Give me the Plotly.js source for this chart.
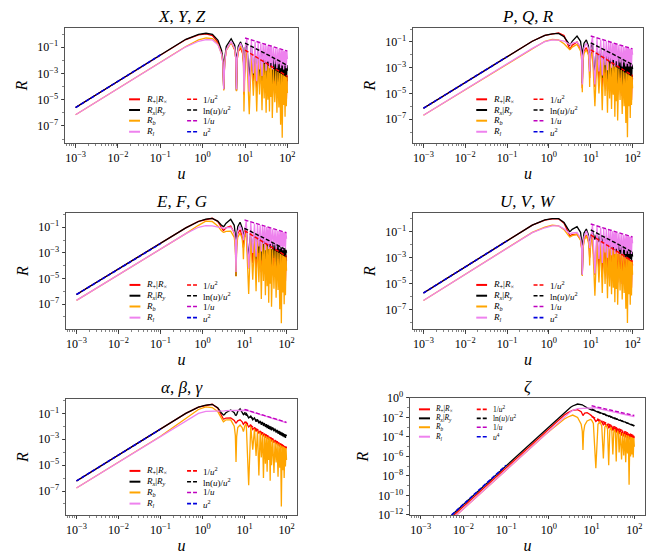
<!DOCTYPE html>
<html><head><meta charset="utf-8">
<script src="https://cdn.plot.ly/plotly-3.0.1.min.js"></script>
<style>html,body{margin:0;padding:0;background:#fff;}</style>
</head><body>
<div id="chart" style="width:664px;height:560px"></div>
<script>
// ---------- shared abscissa (u) ----------
const u = [0.001,0.1,0.4,0.8,1.2,1.7,2.3,2.8,3.0,3.14,3.3,3.6,4.7,5.7,6.05,6.28,6.5,6.9,7.85,8.8,9.2,9.42,9.65,10.1,11.0,12.57,14.1,15.71,17.3,18.85,20.4,21.99,23.6,25.13,26.7,28.27,29.8,31.42,33.0,34.56,36.1,37.7,39.3,40.84,42.4,43.98,47.1,50.27,53.4,56.55,59.7,62.83,66.0,69.12,72.3,75.4,78.5,81.68,84.8,87.96,91.1,94.25,97.4,100];
const asymU = [10, 20, 40, 100];
const lowU = [0.001, 0.1];

// ---------- series values, stored as log10(R) ----------
// X,Y,Z
const xyzPlus = [-5.6,-1.6,-0.42,-0.06,0.01,-0.12,-0.65,-1.45,-2.1,-4.2,-2.1,-1.2,-0.62,-1.2,-1.9,-4.3,-2.0,-1.35,-1.05,-1.5,-2.2,-4.6,-2.3,-1.5,-1.28,-4.1,-1.5,-3.6,-1.7,-4.3,-1.83,-3.8,-1.96,-4.4,-2.06,-3.9,-2.16,-4.5,-2.25,-4.0,-2.33,-4.6,-2.4,-4.1,-2.47,-4.7,-2.56,-4.3,-2.67,-4.8,-2.77,-4.4,-2.86,-5.0,-2.94,-4.6,-3.0,-5.1,-3.08,-4.7,-3.14,-5.2,-3.2,-3.6];
const xyzVec = [-5.6,-1.6,-0.4,-0.02,0.06,-0.02,-0.48,-1.25,-1.95,-4.2,-1.95,-0.95,-0.36,-0.85,-1.6,-4.3,-1.65,-0.95,-0.6,-1.05,-1.75,-4.0,-1.85,-1.05,-0.76,-3.4,-0.93,-3.1,-1.07,-3.5,-1.19,-3.2,-1.3,-3.6,-1.39,-3.3,-1.47,-3.7,-1.55,-3.4,-1.61,-3.8,-1.68,-3.5,-1.73,-3.9,-1.81,-3.6,-1.91,-4.0,-1.99,-3.7,-2.07,-4.1,-2.14,-3.8,-2.2,-4.2,-2.26,-3.9,-2.32,-4.3,-2.37,-2.8];
const xyzB = [-6.15,-2.15,-0.95,-0.45,-0.3,-0.35,-0.78,-1.55,-2.2,-4.3,-2.2,-1.25,-0.65,-1.2,-1.9,-4.35,-1.95,-1.3,-0.9,-1.4,-2.1,-5.9,-2.2,-1.45,-1.4,-6.1,-1.6,-4.7,-1.8,-5.9,-1.93,-4.6,-2.06,-5.8,-2.16,-4.9,-2.26,-6.0,-2.35,-5.0,-2.43,-5.9,-2.5,-4.8,-2.57,-6.4,-2.66,-5.2,-2.77,-6.0,-2.87,-5.6,-2.96,-6.9,-3.04,-7.9,-3.1,-5.4,-3.18,-6.3,-3.24,-5.5,-3.3,-4.5];
const xyzL = [-6.15,-2.15,-0.97,-0.55,-0.42,-0.45,-0.82,-1.55,-2.2,-4.2,-2.2,-1.2,-0.58,-1.1,-1.8,-4.2,-1.85,-1.15,-0.7,-1.15,-1.85,-4.4,-1.9,-1.0,-0.39,-4.4,-0.5,-3.0,-0.59,-3.6,-0.66,-2.7,-0.72,-3.2,-0.78,-2.2,-0.82,-2.8,-0.87,-2.1,-0.91,-2.6,-0.94,-2.2,-0.98,-2.7,-1.02,-2.3,-1.08,-2.6,-1.13,-2.3,-1.17,-2.6,-1.21,-2.4,-1.25,-2.7,-1.28,-2.4,-1.31,-2.6,-1.34,-1.9];
const xyzInv2 = [-1.22,-1.82,-2.42,-3.22];
const xyzLnu = [-0.69,-1.18,-1.69,-2.39];
const xyzInv = [-0.3,-0.6,-0.9,-1.3];
const xyzLow = [-5.6,-1.6];

// P,Q,R
const pqrPlus = [-6.15,-2.15,-0.95,-0.5,-0.38,-0.3,-0.5,-1.1,-1.4,-1.6,-1.5,-1.25,-1.0,-1.5,-2.1,-4.6,-2.2,-1.7,-1.45,-1.9,-2.5,-3.8,-2.6,-2.0,-1.71,-4.5,-1.93,-4.0,-2.1,-4.7,-2.25,-4.2,-2.37,-4.8,-2.48,-4.3,-2.57,-4.9,-2.66,-4.4,-2.74,-5.0,-2.81,-4.5,-2.88,-5.1,-2.97,-4.6,-3.08,-5.2,-3.18,-4.7,-3.27,-5.3,-3.34,-4.8,-3.42,-5.4,-3.48,-4.9,-3.55,-5.5,-3.6,-3.9];
const pqrVec = [-6.15,-2.15,-0.95,-0.5,-0.37,-0.34,-0.6,-1.0,-1.18,-1.25,-1.18,-0.95,-0.55,-0.95,-1.6,-4.2,-1.7,-1.1,-0.84,-1.3,-2.0,-3.3,-2.1,-1.4,-1.13,-3.6,-1.31,-3.2,-1.45,-3.8,-1.57,-3.4,-1.68,-3.9,-1.77,-3.5,-1.85,-4.0,-1.93,-3.6,-1.99,-4.1,-2.06,-3.7,-2.11,-4.2,-2.19,-3.8,-2.29,-4.3,-2.37,-3.9,-2.45,-4.4,-2.52,-4.0,-2.58,-4.5,-2.64,-4.1,-2.7,-4.6,-2.75,-3.1];
const pqrB = [-6.69,-2.69,-1.5,-0.95,-0.8,-0.85,-1.15,-1.45,-1.55,-1.6,-1.55,-1.4,-1.2,-1.7,-2.4,-4.9,-2.5,-1.9,-1.6,-2.0,-2.7,-4.5,-2.8,-2.1,-1.81,-6.0,-2.03,-5.0,-2.2,-6.3,-2.35,-5.2,-2.47,-6.5,-2.58,-5.4,-2.67,-6.2,-2.76,-5.1,-2.84,-6.8,-2.91,-5.6,-2.98,-7.1,-3.07,-5.5,-3.18,-6.6,-3.28,-6.0,-3.37,-7.3,-3.44,-8.4,-3.52,-6.0,-3.58,-6.9,-3.65,-5.9,-3.7,-4.6];
const pqrL = [-6.69,-2.69,-1.5,-0.98,-0.85,-0.86,-0.93,-1.1,-1.17,-1.2,-1.17,-1.1,-1.0,-1.4,-2.0,-4.3,-2.1,-1.45,-1.1,-1.5,-2.1,-3.3,-2.1,-1.2,-0.62,-4.3,-0.73,-3.3,-0.82,-3.6,-0.89,-2.8,-0.95,-3.2,-1.01,-2.5,-1.05,-3.0,-1.1,-2.4,-1.14,-2.9,-1.17,-2.5,-1.21,-2.9,-1.25,-2.6,-1.31,-2.9,-1.36,-2.6,-1.4,-2.9,-1.44,-2.7,-1.47,-2.9,-1.51,-2.7,-1.54,-2.9,-1.57,-2.0];
const pqrInv2 = [-1.61,-2.21,-2.81,-3.61];
const pqrLnu = [-1.07,-1.56,-2.07,-2.77];
const pqrInv = [-0.54,-0.84,-1.14,-1.54];
const pqrLow = [-6.15,-2.15];

// E,F,G
const efgPlus = [-6.25,-2.28,-1.05,-0.55,-0.4,-0.3,-0.55,-1.0,-1.2,-1.26,-1.2,-1.05,-0.9,-1.45,-2.1,-4.8,-2.2,-1.5,-1.2,-1.7,-2.2,-2.6,-2.2,-1.6,-1.34,-4.2,-1.56,-3.8,-1.74,-4.4,-1.88,-3.9,-2.01,-4.5,-2.11,-4.0,-2.21,-4.6,-2.3,-4.1,-2.38,-4.7,-2.45,-4.2,-2.51,-4.8,-2.61,-4.3,-2.72,-4.9,-2.81,-4.4,-2.9,-5.0,-2.98,-4.5,-3.05,-5.1,-3.12,-4.6,-3.18,-5.2,-3.24,-3.6];
const efgVec = [-6.25,-2.28,-1.05,-0.55,-0.37,-0.31,-0.52,-0.82,-0.92,-0.95,-0.9,-0.7,-0.38,-0.85,-1.6,-4.8,-1.7,-0.95,-0.61,-1.05,-1.6,-2.0,-1.6,-1.1,-1.14,-3.4,-1.32,-2.9,-1.46,-3.5,-1.58,-3.0,-1.69,-3.6,-1.78,-3.1,-1.86,-3.7,-1.94,-3.2,-2.0,-3.8,-2.07,-3.3,-2.12,-3.9,-2.2,-3.4,-2.3,-4.0,-2.38,-3.5,-2.46,-4.1,-2.53,-3.6,-2.59,-4.2,-2.65,-3.7,-2.71,-4.3,-2.76,-3.0];
const efgB = [-6.71,-2.72,-1.5,-0.85,-0.52,-0.55,-0.9,-1.25,-1.36,-1.4,-1.38,-1.32,-1.3,-1.8,-2.5,-4.85,-2.5,-1.8,-1.45,-1.9,-2.6,-3.5,-2.6,-1.8,-1.44,-6.2,-1.66,-5.1,-1.84,-6.0,-1.98,-5.3,-2.11,-6.6,-2.21,-5.2,-2.31,-6.3,-2.4,-5.6,-2.48,-6.9,-2.55,-5.4,-2.61,-7.2,-2.71,-5.8,-2.82,-6.5,-2.91,-5.9,-3.0,-7.4,-3.08,-8.5,-3.15,-6.1,-3.22,-7.0,-3.28,-6.3,-3.34,-4.4];
const efgL = [-6.71,-2.72,-1.5,-1.0,-0.88,-0.9,-0.98,-1.06,-1.09,-1.1,-1.09,-1.05,-1.0,-1.4,-2.0,-4.5,-2.0,-1.3,-0.9,-1.3,-1.7,-2.0,-1.7,-1.1,-0.51,-4.2,-0.62,-3.0,-0.71,-3.3,-0.78,-2.5,-0.84,-2.9,-0.9,-2.3,-0.95,-2.8,-0.99,-2.3,-1.03,-2.7,-1.07,-2.3,-1.1,-2.7,-1.15,-2.4,-1.2,-2.7,-1.25,-2.4,-1.29,-2.7,-1.33,-2.5,-1.37,-2.8,-1.4,-2.5,-1.43,-2.7,-1.46,-1.9];
const efgInv2 = [-1.26,-1.86,-2.46,-3.26];
const efgLnu = [-1.08,-1.57,-2.08,-2.78];
const efgInv = [-0.43,-0.73,-1.03,-1.43];
const efgLow = [-6.25,-2.28];

// U,V,W
const uvwPlus = [-5.7,-1.7,-0.5,-0.12,-0.02,0.0,-0.35,-0.95,-1.2,-1.3,-1.28,-1.22,-1.2,-1.6,-2.2,-4.3,-2.3,-1.6,-1.25,-1.7,-2.3,-3.0,-2.4,-1.7,-1.33,-4.3,-1.55,-3.9,-1.73,-4.5,-1.87,-4.0,-2.0,-4.6,-2.1,-4.1,-2.2,-4.7,-2.29,-4.2,-2.37,-4.8,-2.44,-4.3,-2.5,-4.9,-2.6,-4.4,-2.71,-5.0,-2.8,-4.5,-2.89,-5.1,-2.97,-4.6,-3.04,-5.2,-3.11,-4.7,-3.17,-5.3,-3.23,-3.6];
const uvwVec = [-5.7,-1.7,-0.5,-0.1,0.0,0.0,-0.3,-0.75,-0.93,-1.0,-0.95,-0.82,-0.62,-1.05,-1.7,-4.3,-1.8,-1.1,-0.8,-1.25,-1.8,-2.27,-1.85,-1.3,-0.93,-1.6,-1.11,-1.8,-1.25,-1.9,-1.37,-2.0,-1.48,-2.15,-1.57,-2.2,-1.65,-2.3,-1.73,-2.35,-1.79,-2.45,-1.86,-2.5,-1.91,-2.55,-1.99,-2.7,-2.09,-2.8,-2.17,-2.9,-2.25,-2.95,-2.32,-3.0,-2.38,-3.1,-2.44,-3.1,-2.5,-3.2,-2.55,-2.9];
const uvwB = [-6.27,-2.27,-1.05,-0.65,-0.5,-0.55,-0.85,-1.2,-1.35,-1.4,-1.38,-1.3,-1.2,-1.65,-2.3,-4.4,-2.4,-1.7,-1.3,-1.8,-2.5,-3.6,-2.6,-1.8,-1.43,-5.9,-1.65,-4.9,-1.83,-5.7,-1.97,-5.0,-2.1,-6.1,-2.2,-5.2,-2.3,-5.8,-2.39,-5.3,-2.47,-6.4,-2.54,-5.4,-2.6,-6.6,-2.7,-5.5,-2.81,-6.2,-2.9,-5.7,-2.99,-6.9,-3.07,-8.0,-3.14,-5.8,-3.21,-6.6,-3.27,-5.9,-3.33,-4.3];
const uvwL = [-6.27,-2.27,-1.07,-0.7,-0.56,-0.56,-0.78,-1.0,-1.1,-1.15,-1.14,-1.1,-1.05,-1.5,-2.1,-4.3,-2.1,-1.4,-0.95,-1.4,-1.9,-2.27,-1.9,-1.2,-0.49,-4.2,-0.6,-3.1,-0.69,-3.4,-0.76,-2.6,-0.82,-3.0,-0.88,-2.3,-0.92,-2.8,-0.97,-2.2,-1.01,-2.7,-1.04,-2.3,-1.08,-2.7,-1.12,-2.4,-1.18,-2.7,-1.23,-2.4,-1.27,-2.7,-1.31,-2.5,-1.35,-2.7,-1.38,-2.5,-1.41,-2.7,-1.44,-1.9];
const uvwInv2 = [-1.25,-1.85,-2.45,-3.25];
const uvwLnu = [-0.87,-1.36,-1.87,-2.57];
const uvwInv = [-0.41,-0.71,-1.01,-1.41];
const uvwLow = [-5.7,-1.7];

// alpha,beta,gamma
const abgPlus = [-6.22,-2.22,-1.0,-0.52,-0.37,-0.3,-0.6,-1.15,-1.35,-1.44,-1.42,-1.36,-1.35,-1.55,-1.7,-1.75,-1.7,-1.58,-1.5,-1.65,-1.8,-1.85,-1.8,-1.7,-1.68,-2.05,-1.9,-2.25,-2.08,-2.4,-2.22,-2.55,-2.35,-2.68,-2.45,-2.78,-2.55,-2.88,-2.64,-2.96,-2.72,-3.04,-2.79,-3.1,-2.85,-3.17,-2.95,-3.28,-3.06,-3.38,-3.15,-3.48,-3.24,-3.56,-3.32,-3.64,-3.39,-3.7,-3.46,-3.77,-3.52,-3.83,-3.58,-3.7];
const abgVec = [-6.22,-2.22,-1.0,-0.52,-0.36,-0.3,-0.56,-0.95,-1.08,-1.13,-1.1,-0.95,-0.74,-0.95,-1.12,-1.15,-1.1,-0.85,-0.65,-0.9,-1.05,-1.1,-1.06,-0.95,-1.0,-1.35,-1.2,-1.5,-1.35,-1.65,-1.47,-1.77,-1.58,-1.88,-1.67,-1.97,-1.75,-2.05,-1.83,-2.13,-1.89,-2.19,-1.96,-2.26,-2.01,-2.31,-2.09,-2.39,-2.19,-2.49,-2.27,-2.57,-2.35,-2.65,-2.42,-2.72,-2.48,-2.78,-2.54,-2.84,-2.6,-2.9,-2.65,-2.75];
const abgB = [-6.77,-2.77,-1.4,-0.7,-0.5,-0.55,-0.85,-1.35,-1.55,-1.65,-1.6,-1.5,-1.5,-2.0,-2.7,-4.75,-2.8,-2.1,-1.9,-2.1,-2.3,-2.4,-2.3,-2.0,-1.78,-6.55,-2.0,-3.8,-2.18,-4.3,-2.32,-5.8,-2.45,-4.4,-2.55,-6.0,-2.65,-4.9,-2.74,-5.5,-2.82,-4.6,-2.89,-6.2,-2.95,-5.0,-3.05,-5.6,-3.16,-4.8,-3.25,-5.9,-3.34,-5.2,-3.42,-8.2,-3.49,-5.4,-3.56,-6.0,-3.62,-5.1,-3.68,-4.6];
const abgL = [-6.77,-2.77,-1.55,-1.0,-0.85,-0.85,-0.85,-0.82,-0.81,-0.8,-0.8,-0.79,-0.78,-0.79,-0.8,-0.8,-0.79,-0.77,-0.75,-0.75,-0.75,-0.75,-0.75,-0.75,-0.76,-0.8,-0.88,-0.9,-0.96,-0.98,-1.03,-1.05,-1.1,-1.1,-1.15,-1.15,-1.2,-1.2,-1.24,-1.25,-1.28,-1.29,-1.32,-1.33,-1.35,-1.36,-1.4,-1.42,-1.46,-1.48,-1.5,-1.52,-1.55,-1.56,-1.59,-1.6,-1.62,-1.64,-1.66,-1.67,-1.69,-1.7,-1.72,-1.72];
const abgInv2 = [-1.65,-2.25,-2.85,-3.65];
const abgLnu = [-1.05,-1.54,-2.05,-2.75];
const abgInv = [-0.69,-0.99,-1.29,-1.69];
const abgLow = [-6.22,-2.22];

// zeta
const zetaPlus = [-15.1,-7.1,-4.7,-3.55,-2.85,-2.2,-1.75,-1.5,-1.42,-1.35,-1.32,-1.26,-1.2,-1.4,-1.65,-1.8,-1.7,-1.55,-1.5,-1.6,-1.7,-1.75,-1.75,-1.85,-1.98,-2.4,-2.2,-2.55,-2.38,-2.8,-2.52,-2.95,-2.65,-3.1,-2.75,-3.25,-2.85,-3.35,-2.94,-3.45,-3.02,-3.55,-3.09,-3.62,-3.15,-3.7,-3.25,-3.85,-3.36,-3.95,-3.45,-4.05,-3.54,-4.15,-3.62,-4.25,-3.69,-4.3,-3.76,-4.35,-3.82,-4.4,-3.88,-4.1];
const zetaVec = [-14.9,-6.9,-4.55,-3.35,-2.65,-2.05,-1.55,-1.2,-1.08,-1.0,-0.93,-0.82,-0.62,-0.65,-0.7,-0.75,-0.8,-0.88,-1.0,-1.12,-1.17,-1.2,-1.22,-1.24,-1.25,-1.37,-1.4,-1.55,-1.55,-1.68,-1.67,-1.8,-1.78,-1.9,-1.87,-1.98,-1.95,-2.06,-2.03,-2.12,-2.09,-2.19,-2.16,-2.24,-2.21,-2.29,-2.28,-2.37,-2.37,-2.45,-2.45,-2.53,-2.53,-2.6,-2.6,-2.66,-2.66,-2.72,-2.72,-2.78,-2.78,-2.83,-2.83,-2.86];
const zetaB = [-15.35,-7.35,-4.95,-3.8,-3.15,-2.6,-2.15,-1.95,-1.88,-1.82,-1.78,-1.75,-2.0,-2.7,-3.4,-5.33,-3.5,-2.8,-2.35,-2.2,-2.18,-2.2,-2.22,-2.3,-2.6,-7.2,-2.7,-2.4,-2.9,-6.2,-3.0,-2.75,-3.2,-6.9,-3.3,-3.0,-3.4,-5.8,-3.5,-3.2,-3.6,-6.5,-3.7,-3.35,-3.75,-5.6,-3.5,-6.3,-3.6,-5.9,-3.7,-6.6,-3.8,-5.7,-3.85,-8.9,-3.95,-6.0,-4.0,-5.8,-4.05,-6.1,-4.1,-5.0];
const zetaL = [-15.35,-7.35,-4.95,-3.8,-3.1,-2.45,-1.95,-1.62,-1.52,-1.45,-1.38,-1.28,-1.1,-1.07,-1.06,-1.05,-1.04,-1.02,-1.0,-0.99,-0.98,-0.98,-0.97,-0.97,-0.96,-1.0,-1.07,-1.1,-1.16,-1.19,-1.23,-1.26,-1.29,-1.31,-1.35,-1.37,-1.39,-1.41,-1.44,-1.46,-1.48,-1.5,-1.51,-1.53,-1.55,-1.56,-1.59,-1.61,-1.65,-1.67,-1.7,-1.72,-1.74,-1.76,-1.78,-1.8,-1.81,-1.83,-1.85,-1.86,-1.88,-1.89,-1.9,-1.92];
const zetaInv2 = [-1.9,-2.5,-3.1,-3.9];
const zetaLnu = [-1.15,-1.64,-2.15,-2.85];
const zetaInv = [-0.8,-1.1,-1.4,-1.8];
const zetaLow = [-14.9,-6.9];

// ---------- text ----------
const panelTitles = ['<i>X</i>, <i>Y</i>, <i>Z</i>','<i>P</i>, <i>Q</i>, <i>R</i>','<i>E</i>, <i>F</i>, <i>G</i>','<i>U</i>, <i>V</i>, <i>W</i>','<i>α</i>, <i>β</i>, <i>γ</i>','<i>ζ</i>'];
const solidLabels = ['<i>R</i><sub>+</sub>|<i>R</i><sub>×</sub>','<i>R</i><sub><i>x</i></sub>|<i>R</i><sub><i>y</i></sub>','<i>R</i><sub><i>b</i></sub>','<i>R</i><sub><i>l</i></sub>'];
const dashLabels = ['1/<i>u</i><sup>2</sup>','ln(<i>u</i>)/<i>u</i><sup>2</sup>','1/<i>u</i>','<i>u</i><sup>2</sup>'];
const dashLabelsZeta = ['1/<i>u</i><sup>2</sup>','ln(<i>u</i>)/<i>u</i><sup>2</sup>','1/<i>u</i>','<i>u</i><sup>4</sup>'];
const xTickVals = [1e-3,1e-2,1e-1,1,10,100];
const xTickText = ['10<sup>−3</sup>','10<sup>−2</sup>','10<sup>−1</sup>','10<sup>0</sup>','10<sup>1</sup>','10<sup>2</sup>'];
const yTickVals = [1e-7,1e-5,1e-3,1e-1];
const yTickText = ['10<sup>−7</sup>','10<sup>−5</sup>','10<sup>−3</sup>','10<sup>−1</sup>'];
const zTickVals = [1e-12,1e-10,1e-8,1e-6,1e-4,1e-2,1];
const zTickText = ['10<sup>−12</sup>','10<sup>−10</sup>','10<sup>−8</sup>','10<sup>−6</sup>','10<sup>−4</sup>','10<sup>−2</sup>','10<sup>0</sup>'];

// ---------- assembly ----------
const P = v => v.map(e => Math.pow(10, e));
const series = [
  [xyzPlus,xyzVec,xyzB,xyzL,xyzInv2,xyzLnu,xyzInv,xyzLow],
  [pqrPlus,pqrVec,pqrB,pqrL,pqrInv2,pqrLnu,pqrInv,pqrLow],
  [efgPlus,efgVec,efgB,efgL,efgInv2,efgLnu,efgInv,efgLow],
  [uvwPlus,uvwVec,uvwB,uvwL,uvwInv2,uvwLnu,uvwInv,uvwLow],
  [abgPlus,abgVec,abgB,abgL,abgInv2,abgLnu,abgInv,abgLow],
  [zetaPlus,zetaVec,zetaB,zetaL,zetaInv2,zetaLnu,zetaInv,zetaLow]
];

const cRed = '#ff0000', cBlack = '#000000', cOrange = '#ffa500', cViolet = '#ee82ee', cMag = '#bf00bf', cBlue = '#0000dd';
const solidColors = [cRed, cBlack, cOrange, cViolet];
const dashColors = [cRed, cBlack, cMag, cBlue];
const DASH = '4px,2px';

const domains = [
  {x:[0.0979,0.4488], y:[0.7446,0.95]},
  {x:[0.622,0.9684],  y:[0.7446,0.95]},
  {x:[0.0994,0.4473], y:[0.4125,0.6196]},
  {x:[0.622,0.9684],  y:[0.4125,0.6196]},
  {x:[0.0994,0.4473], y:[0.0804,0.2875]},
  {x:[0.6175,0.9714], y:[0.0804,0.2893]}
];
const yRanges = [[-8.3,0.46],[-8.85,0.08],[-8.94,0.11],[-8.46,0.43],[-8.85,0.11],[-12,0]];

const FONT = 'Liberation Serif, Times New Roman, serif';
const traces = [];
const layout = {
  width: 664, height: 560,
  margin: {l:0, r:0, t:0, b:0},
  paper_bgcolor: '#fff', plot_bgcolor: '#fff',
  showlegend: false,
  font: {family: FONT, color: '#000'},
  annotations: [], shapes: []
};

series.forEach((s, i) => {
  const n = i === 0 ? '' : String(i + 1);
  const xa = 'x' + n, ya = 'y' + n;
  for (let k = 0; k < 4; k++) {
    traces.push({x: u, y: P(s[k]), xaxis: xa, yaxis: ya, mode: 'lines',
      line: {color: solidColors[k], width: 1.3}, hoverinfo: 'skip'});
  }
  for (let k = 0; k < 3; k++) {
    traces.push({x: asymU, y: P(s[4 + k]), xaxis: xa, yaxis: ya, mode: 'lines',
      line: {color: dashColors[k], width: 1.4, dash: DASH}, hoverinfo: 'skip'});
  }
  traces.push({x: lowU, y: P(s[7]), xaxis: xa, yaxis: ya, mode: 'lines',
    line: {color: cBlue, width: 1.6, dash: DASH}, hoverinfo: 'skip'});

  const isZ = i === 5;
  layout['xaxis' + n] = {
    type: 'log', domain: domains[i].x, anchor: ya, range: [-3.25, 2.25],
    tickmode: 'array', tickvals: xTickVals, ticktext: xTickText,
    ticks: 'outside', ticklen: 3.5, tickwidth: 0.8, tickcolor: '#222',
    showline: true, mirror: true, linecolor: '#555', linewidth: 1,
    showgrid: false, zeroline: false,
    tickfont: {family: FONT, size: 12, color: '#000'},
    minor: {ticks: 'outside', ticklen: 2, tickwidth: 0.6, tickcolor: '#333', dtick: 'D1', showgrid: false},
    title: {text: '<i>u</i>', font: {family: FONT, size: 16, color: '#000'}, standoff: 3}
  };
  layout['yaxis' + n] = {
    type: 'log', domain: domains[i].y, anchor: xa, range: yRanges[i],
    tickmode: 'array', tickvals: isZ ? zTickVals : yTickVals, ticktext: isZ ? zTickText : yTickText,
    ticks: 'outside', ticklen: 3.5, tickwidth: 0.8, tickcolor: '#222',
    showline: true, mirror: true, linecolor: '#555', linewidth: 1,
    showgrid: false, zeroline: false,
    tickfont: {family: FONT, size: 12, color: '#000'},
    minor: {ticks: 'outside', ticklen: 2, tickwidth: 0.6, tickcolor: '#333', dtick: 1, showgrid: false},
    title: {text: '<i>R</i>', font: {family: FONT, size: 16, color: '#000'}, standoff: 5}
  };

  layout.annotations.push({text: panelTitles[i], xref: xa + ' domain', yref: ya + ' domain',
    x: 0.5, y: 1, xanchor: 'center', yanchor: 'bottom', showarrow: false,
    font: {family: FONT, size: 17, color: '#000'}});

  const rows = isZ ? [0.903, 0.826, 0.75, 0.669] : [0.38, 0.287, 0.194, 0.098];
  const c1 = isZ ? [0.038, 0.085, 0.098] : [0.275, 0.322, 0.338];
  const c2 = isZ ? [0.284, 0.33, 0.343] : [0.524, 0.567, 0.585];
  const dl = isZ ? dashLabelsZeta : dashLabels;
  const fs = isZ ? 7.5 : 9;
  for (let k = 0; k < 4; k++) {
    layout.shapes.push({type: 'line', xref: xa + ' domain', yref: ya + ' domain',
      x0: c1[0], x1: c1[1], y0: rows[k], y1: rows[k], line: {color: solidColors[k], width: 2}});
    layout.annotations.push({text: solidLabels[k], xref: xa + ' domain', yref: ya + ' domain',
      x: c1[2], y: rows[k], xanchor: 'left', yanchor: 'middle', showarrow: false,
      font: {family: FONT, size: fs, color: '#000'}});
    layout.shapes.push({type: 'line', xref: xa + ' domain', yref: ya + ' domain',
      x0: c2[0], x1: c2[1], y0: rows[k], y1: rows[k], line: {color: dashColors[k], width: 1.6, dash: DASH}});
    layout.annotations.push({text: dl[k], xref: xa + ' domain', yref: ya + ' domain',
      x: c2[2], y: rows[k], xanchor: 'left', yanchor: 'middle', showarrow: false,
      font: {family: FONT, size: fs, color: '#000'}});
  }
});

Plotly.newPlot('chart', traces, layout, {staticPlot: true, displayModeBar: false});
</script>
</body></html>
